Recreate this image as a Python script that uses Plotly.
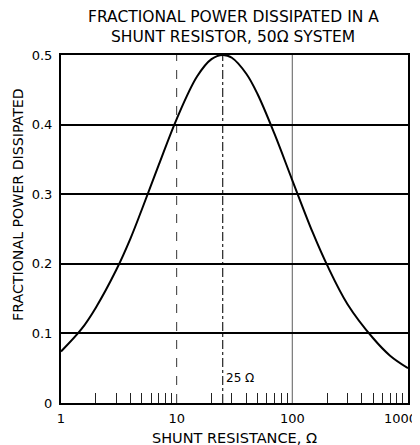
import math
import plotly.graph_objects as go

# Data
resistance = [1, 1.5, 2, 3, 4, 5, 7, 10, 15, 20, 25, 30, 40, 50, 70, 100, 150, 200, 300, 500, 700, 1000]
power = [0.074, 0.106, 0.137, 0.191, 0.237, 0.278, 0.342, 0.408, 0.469, 0.494, 0.500, 0.496,
         0.473, 0.444, 0.387, 0.320, 0.245, 0.198, 0.142, 0.093, 0.068, 0.050]

x_ticks = [1, 10, 100, 1000]
x_tick_labels = ["1", "10", "100", "1000"]
y_ticks = [0, 0.1, 0.2, 0.3, 0.4, 0.5]
y_tick_labels = ["0", "0.1", "0.2", "0.3", "0.4", "0.5"]
minor_x = [2, 3, 4, 5, 6, 7, 8, 9, 20, 30, 40, 50, 60, 70, 80, 90, 200, 300, 400, 500, 600, 700, 800, 900]
v_lines = [10, 25, 100]
v_styles = [("dash", "#333", 1), ("dashdot", "#222", 1.2), ("solid", "#777", 1.2)]
marker_label = "25 Ω"
marker_value = 25
title_lines = ["FRACTIONAL POWER DISSIPATED IN A", "SHUNT RESISTOR, 50Ω SYSTEM"]
x_title = "SHUNT RESISTANCE, Ω"
y_title = "FRACTIONAL POWER DISSIPATED"

FONT = "DejaVu Sans, Verdana, sans-serif"

fig = go.Figure()
fig.add_trace(go.Scatter(x=resistance, y=power, mode="lines",
                         line=dict(color="black", width=2, shape="spline"),
                         showlegend=False, hoverinfo="skip"))

for xv, (dash, col, w) in zip(v_lines, v_styles):
    fig.add_shape(type="line", xref="x", yref="paper", x0=xv, x1=xv, y0=0, y1=1,
                  line=dict(color=col, width=w, dash=dash), layer="below")

# annotations on a log axis take log10 of the data value
fig.add_annotation(x=math.log10(marker_value), y=0.036, xref="x", yref="y", text=marker_label,
                   showarrow=False, xanchor="left", xshift=1,
                   font=dict(size=12, color="black", family=FONT))

# last x tick label: right-aligned so it stays inside the page
fig.add_annotation(x=math.log10(x_ticks[-1]), y=0, xref="x", yref="paper", text=x_tick_labels[-1],
                   showarrow=False, xanchor="right", yanchor="middle", xshift=11, yshift=-15,
                   font=dict(size=13, color="black", family=FONT))

# Two-line title as annotations
for i, line in enumerate(title_lines):
    fig.add_annotation(x=0.497, y=1, xref="paper", yref="paper", text=line, showarrow=False,
                       xanchor="center", yanchor="middle", yshift=38 - 20 * i,
                       font=dict(size=15.5, family=FONT, color="black"))

# Axis titles
fig.add_annotation(x=0.501, y=0, xref="paper", yref="paper", text=x_title, showarrow=False,
                   xanchor="center", yanchor="middle", yshift=-35,
                   font=dict(size=14.5, family=FONT, color="black"))
fig.add_annotation(x=0, y=0.569, xref="paper", yref="paper", text=y_title, showarrow=False,
                   xanchor="center", yanchor="middle", xshift=-43, textangle=-90,
                   font=dict(size=14.2, family=FONT, color="black"))

fig.update_layout(
    width=412, height=437,
    margin=dict(l=53, r=12, t=47, b=42),
    paper_bgcolor="white", plot_bgcolor="white",
    font=dict(family=FONT, color="black", size=13),
    xaxis=dict(type="log", range=[0, 3], tickmode="array", tickvals=x_ticks[:-1],
               ticktext=x_tick_labels[:-1],
               showgrid=False, zeroline=False, showline=True, linecolor="black", linewidth=2,
               mirror=True, ticks="", tickfont=dict(size=13), automargin=False,
               ticklabelstandoff=2,
               minor=dict(tickmode="array", tickvals=minor_x, ticks="inside", ticklen=10,
                          tickcolor="#222", tickwidth=1, showgrid=False)),
    yaxis=dict(range=[0, 0.5], tickmode="array", tickvals=y_ticks, ticktext=y_tick_labels,
               showgrid=True, gridcolor="black", gridwidth=1.5, zeroline=False,
               showline=True, linecolor="black", linewidth=2, mirror=True, ticks="",
               tickfont=dict(size=13), automargin=False, ticklabelstandoff=4),
)

fig.write_html("out.html")
